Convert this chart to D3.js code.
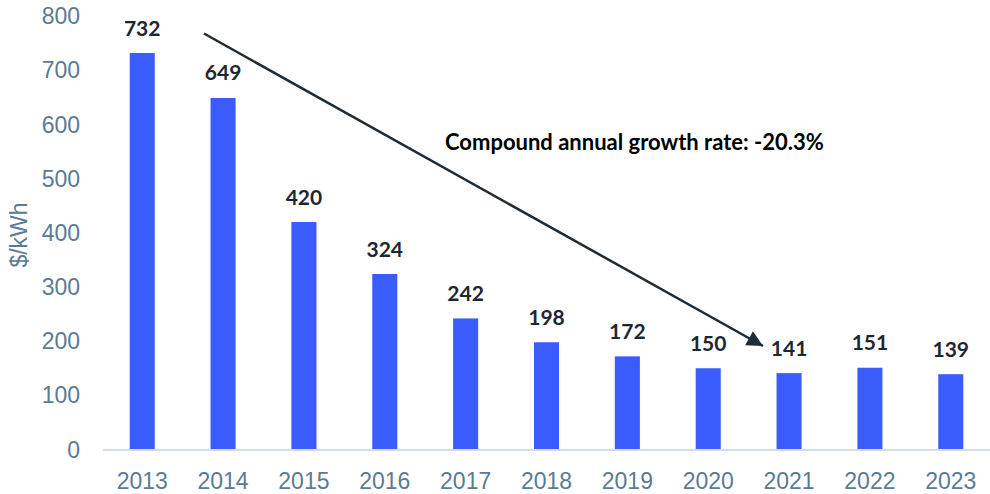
<!DOCTYPE html>
<html><head><meta charset="utf-8">
<script src="https://cdn.jsdelivr.net/npm/d3@7"></script>
<style>body{margin:0;background:#fff}svg{display:block}</style>
</head><body>
<svg id="c" width="990" height="494"></svg>
<script>
const years = ["2013","2014","2015","2016","2017","2018","2019","2020","2021","2022","2023"];
const prices = [732,649,420,324,242,198,172,150,141,151,139];
const yTicks = [0,100,200,300,400,500,600,700,800];
const yTitle = "$/kWh";
const annotation = "Compound annual growth rate: -20.3%";

const svg = d3.select("#c");
const x = d3.scaleBand().domain(years).range([103,990]).paddingInner(0.69).paddingOuter(0.33);
const y = d3.scaleLinear().domain([0,800]).range([449.5,16.2]);

// y tick labels
svg.append("g").selectAll("text").data(yTicks).join("text")
  .attr("x",80).attr("y",d=>y(d)).attr("dy","0.35em")
  .attr("text-anchor","end")
  .style("font-family","'Liberation Sans',Arial,sans-serif").style("font-size","23px")
  .attr("fill","#5b7a95").text(d=>d);

// y title
svg.append("text").attr("transform","translate(19,235) rotate(-90)")
  .attr("text-anchor","middle").attr("dy","0.35em")
  .style("font-family","'Liberation Sans',Arial,sans-serif").style("font-size","23px")
  .attr("fill","#5b7a95").text(yTitle);

// bars
svg.append("g").selectAll("rect").data(prices).join("rect")
  .attr("x",(d,i)=>x(years[i])).attr("width",x.bandwidth())
  .attr("y",d=>y(d)).attr("height",d=>y(0)-y(d))
  .attr("fill","#3b5cfd");

// baseline
svg.append("line").attr("x1",103).attr("x2",990).attr("y1",y(0)+0.5).attr("y2",y(0)+0.5)
  .attr("stroke","#d3dde6").attr("stroke-width",2);

// x labels
svg.append("g").selectAll("text").data(years).join("text")
  .attr("x",d=>x(d)+x.bandwidth()/2).attr("y",489)
  .attr("text-anchor","middle")
  .style("font-family","'Liberation Sans',Arial,sans-serif").style("font-size","23px")
  .attr("fill","#5b7a95").text(d=>d);

// value labels
svg.append("g").selectAll("text").data(prices).join("text")
  .attr("x",(d,i)=>x(years[i])+x.bandwidth()/2).attr("y",d=>y(d)-17.5)
  .attr("text-anchor","middle")
  .style("font-family","Lato,sans-serif").style("font-size","21px").style("font-weight","bold")
  .attr("fill","#1d2731").text(d=>d);

// arrow
const defs = svg.append("defs");
defs.append("marker").attr("id","ah").attr("viewBox","0 0 10 10").attr("refX",10).attr("refY",5)
  .attr("markerUnits","userSpaceOnUse").attr("markerWidth",18).attr("markerHeight",16).attr("orient","auto")
  .append("path").attr("d","M0,0L10,5L0,10Z").attr("fill","#1f2b35");
svg.append("line").attr("x1",204).attr("y1",33.5).attr("x2",763).attr("y2",346)
  .attr("stroke","#1f2b35").attr("stroke-width",2.5).attr("marker-end","url(#ah)");

// annotation
svg.append("text").attr("x",445).attr("y",150)
  .style("font-family","Lato,sans-serif").style("font-size","22px").style("font-weight","bold")
  .attr("fill","#000").text(annotation);
</script>
</body></html>
